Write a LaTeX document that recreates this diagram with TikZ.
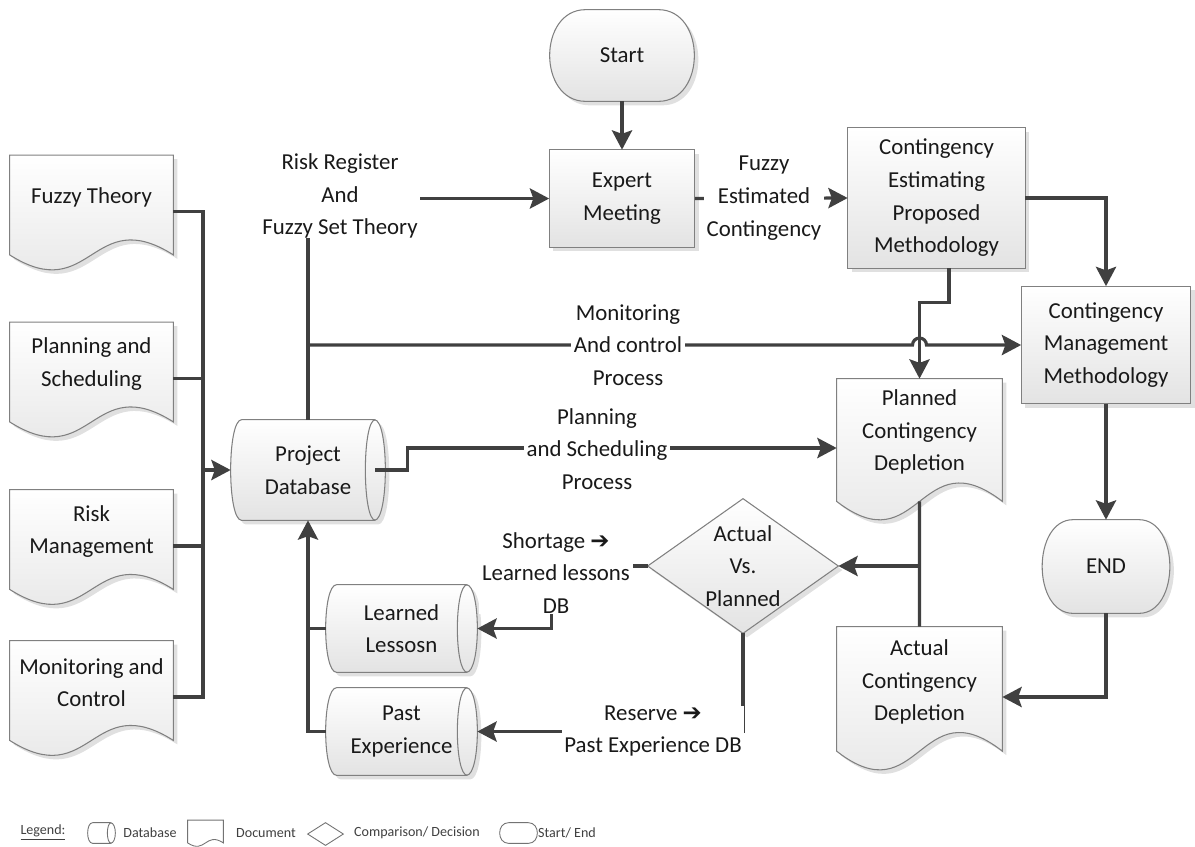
\documentclass[tikz,border=0pt]{standalone}
\usepackage{fontspec}
\setmainfont{Carlito}
\newfontfamily\arrowglyph{DejaVu Sans}
\usetikzlibrary{calc,arrows.meta}
\newlength\px
\setlength\px{0.02cm}
\pgfdeclarelayer{background}
\pgfsetlayers{background,main}

% rectangle with half-elliptic ends: #1 node, #2 offset, #3 end radius (px)
\newcommand\capsulepath[3]{%
  ($(#1.north west)+(#3,0)+#2$) -- ($(#1.north east)+(-#3,0)+#2$)
  .. controls ($(#1.north east)+(0.333*#3,0)+#2$) and ($(#1.south east)+(0.333*#3,0)+#2$)
  .. ($(#1.south east)+(-#3,0)+#2$) -- ($(#1.south west)+(#3,0)+#2$)
  .. controls ($(#1.south west)+(-0.333*#3,0)+#2$) and ($(#1.north west)+(-0.333*#3,0)+#2$)
  .. ($(#1.north west)+(#3,0)+#2$) -- cycle}
% visible end face of a lying cylinder
\newcommand\cylface[2]{%
  ($(#1.north east)+(-#2,0)$)
  .. controls ($(#1.north east)+(-2.333*#2,0)$) and ($(#1.south east)+(-2.333*#2,0)$)
  .. ($(#1.south east)+(-#2,0)$)}
% document sheet with a wavy lower edge
\newcommand\docpath[2]{%
  ($(#1.north west)+#2$) -- ($(#1.north east)+#2$)
  -- ($(#1.south east)!0.115!(#1.north east)+#2$)
  .. controls ($(#1.south)!0.575!(#1.north)+#2$) and ($(#1.south)!-0.345!(#1.north)+#2$)
  .. ($(#1.south west)!0.115!(#1.north west)+#2$) -- cycle}
\newcommand\rectpath[2]{($(#1.north west)+#2$) rectangle ($(#1.south east)+#2$)}
\newcommand\diapath[2]{($(#1.north)+#2$) -- ($(#1.east)+#2$) -- ($(#1.south)+#2$) -- ($(#1.west)+#2$) -- cycle}

\begin{document}
\begin{tikzpicture}[x=0.02cm,y=-0.02cm,
  every node/.style={font=\fontsize{13}{18.6}\selectfont, text=black!90},
  holder/.style={inner sep=0pt, align=center},
  docl/.style={holder, minimum width=163\px, minimum height=112\px},
  lbl/.style={fill=white, inner xsep=1.5pt, inner ysep=0pt, align=center},
  conn/.style={draw=black!75, line width=1.8pt},
  arr/.style={conn, -{Stealth[length=11pt,width=11.5pt,inset=2pt]}},
  shp/.style={draw=black!50, line width=0.6pt, top color=white, bottom color=black!11},
  shd/.style={fill=black!12},
  leg/.style={draw=black!55, line width=0.5pt, fill=white},
  legtxt/.style={font=\fontsize{8}{10}\selectfont, text=black!75, inner sep=0pt},
]
\useasboundingbox (0,0) rectangle (1195,846);

% ---- flow elements
\node[holder, minimum width=144\px, minimum height=91\px] (begn) at (622,55.5) {Start};
\node[holder, minimum width=145\px, minimum height=97\px] (em) at (622,198.5) {Expert\\Meeting};
\node[holder, minimum width=177\px, minimum height=140\px] (cepm) at (936.5,198) {Contingency\\Estimating\\Proposed\\Methodology};
\node[holder, minimum width=169\px, minimum height=117\px] (cmm) at (1106,345) {Contingency\\Management\\Methodology};
\node[holder, minimum width=127\px, minimum height=93\px] (endn) at (1106,566.5) {END};
\node[holder, minimum width=165\px, minimum height=138\px] (pcd) at (919.5,448) {};
\node[holder, minimum width=165\px, minimum height=140\px] (acd) at (919.5,697) {};
\node[holder, minimum width=190\px, minimum height=134\px] (dia) at (743,566) {Actual\\Vs.\\Planned};
\node[holder, minimum width=154\px, minimum height=100\px] (pdb) at (308,470) {Project\\Database};
\node[holder, minimum width=151\px, minimum height=87\px] (ll) at (401.5,628.5) {Learned\\Lessosn};
\node[holder, minimum width=151\px, minimum height=87\px] (pe) at (401.5,731.5) {Past\\Experience};
\node[docl] (fuzzy) at (91.5,211.5) {};
\node[docl] (plan) at (91.5,378.5) {};
\node[docl] (risk) at (91.5,546) {};
\node[docl] (monit) at (91.5,697) {};

% document texts sit in the upper part of the sheet
\node[holder] (fuzzy-t) at ([yshift=8.2pt]fuzzy.center) {Fuzzy Theory};
\node[holder] (plan-t) at ([yshift=8.2pt]plan.center) {Planning and\\Scheduling};
\node[holder] (risk-t) at ([yshift=8.2pt]risk.center) {Risk\\Management};
\node[holder] (monit-t) at ([yshift=8.2pt]monit.center) {Monitoring and\\Control};
\node[holder] (pcd-t) at ([yshift=9pt]pcd.center) {Planned\\Contingency\\Depletion};
\node[holder] (acd-t) at ([yshift=8.5pt]acd.center) {Actual\\Contingency\\Depletion};

% ---- shapes behind the texts
\begin{pgfonlayer}{background}
  \foreach \n in {fuzzy,plan,risk,monit,pcd,acd} {
    \fill[shd] \docpath{\n}{(4,4)};
    \path[shp] \docpath{\n}{(0,0)};
  }
  \foreach \n in {em,cepm,cmm} {
    \fill[shd] \rectpath{\n}{(4,4)};
    \path[shp] \rectpath{\n}{(0,0)};
  }
  \fill[shd] \diapath{dia}{(4,4)};
  \path[shp] \diapath{dia}{(0,0)};
  \fill[shd] \capsulepath{begn}{(4,4)}{36};
  \path[shp] \capsulepath{begn}{(0,0)}{36};
  \fill[shd] \capsulepath{endn}{(4,4)}{31};
  \path[shp] \capsulepath{endn}{(0,0)}{31};
  \foreach \n in {pdb,ll,pe} {
    \fill[shd] \capsulepath{\n}{(4,4)}{11};
    \path[shp] \capsulepath{\n}{(0,0)}{11};
    \draw[draw=black!50, line width=0.6pt] \cylface{\n}{10};
  }
\end{pgfonlayer}

% ---- connectors
\coordinate (bus) at (203,470);
\draw[conn] (fuzzy.east) -| (bus) |- (monit.east);
\draw[conn] (plan.east) -- (plan.east -| bus);
\draw[conn] (risk.east) -- (risk.east -| bus);
\draw[arr] (bus) -- (pdb.west);

\draw[arr] (begn.south) -- (em.north);
\draw[arr] (pdb.north) |- (em.west);
\coordinate (mj) at (pdb.north |- cmm.west);
\coordinate (hop) at (pcd.north |- cmm.west);
\draw[arr] (mj) -- ($(hop)+(-7,0)$) arc[start angle=180, end angle=0, radius=3.98pt] -- (cmm.west);
\draw[arr] ([xshift=-10\px]pdb.east) -- ++(32,0) |- (pcd.west);
\draw[arr] (em.east) -- (cepm.west);
\draw[arr] (cepm.east) -| (cmm.north);
\draw[arr] ([xshift=12.5\px]cepm.south) -- ++(0,34) -| (pcd.north);
\draw[arr] (cmm.south) -- (endn.north);
\draw[arr] (endn.south) |- (acd.east);
\draw[conn] ($(pcd.south)!0.115!(pcd.north)$) -- (acd.north);
\coordinate (dj) at (acd.north |- dia.east);
\draw[arr] (dj) -- (dia.east);
\draw[arr] (dia.west) -- ++(-96,0) |- (ll.east);
\draw[arr] (dia.south) |- (pe.east);
\draw[arr] (pe.west) -| (pdb.south);
\draw[conn] (ll.west) -- (ll.west -| pdb.south);

% ---- connector labels
\node[lbl] (rr) at (340,196) {Risk Register\\And\\Fuzzy Set Theory};
\node[lbl] (fec) at (764,198) {Fuzzy\\Estimated\\Contingency};
\node[lbl] (mcp) at (628,345) {Monitoring\\And control\\Process};
\node[lbl] (psp) at (597,449) {Planning\\and Scheduling\\Process};
\node[lbl] (sll) at (556,573) {Shortage {\arrowglyph ➔}\\Learned lessons\\DB};
\node[lbl] (rpe) at (653,731) {Reserve {\arrowglyph ➔}\\Past Experience DB};

% ---- legend
\node[legtxt] (legend) at (43,833) {\underline{Legend:}};
\node[holder, minimum width=27\px, minimum height=20\px] (lg-db) at (101.5,833) {};
\node[legtxt] (lg-dbt) at (150,833) {Database};
\node[holder, minimum width=35\px, minimum height=25\px] (lg-doc) at (205.5,833) {};
\node[legtxt] (lg-doct) at (266,833) {Document};
\node[holder, minimum width=35\px, minimum height=22\px] (lg-dia) at (325.5,834) {};
\node[legtxt] (lg-diat) at (417,833) {Comparison/ Decision};
\node[holder, minimum width=37\px, minimum height=20\px] (lg-se) at (518.5,833) {};
\node[legtxt] (lg-set) at (567,833) {Start/ End};
\draw[leg] \capsulepath{lg-db}{(0,0)}{5};
\draw[draw=black!55, line width=0.5pt] \cylface{lg-db}{4};
\draw[leg] \docpath{lg-doc}{(0,0)};
\draw[leg] \diapath{lg-dia}{(0,0)};
\draw[leg] \capsulepath{lg-se}{(0,0)}{9};
\end{tikzpicture}
\end{document}
